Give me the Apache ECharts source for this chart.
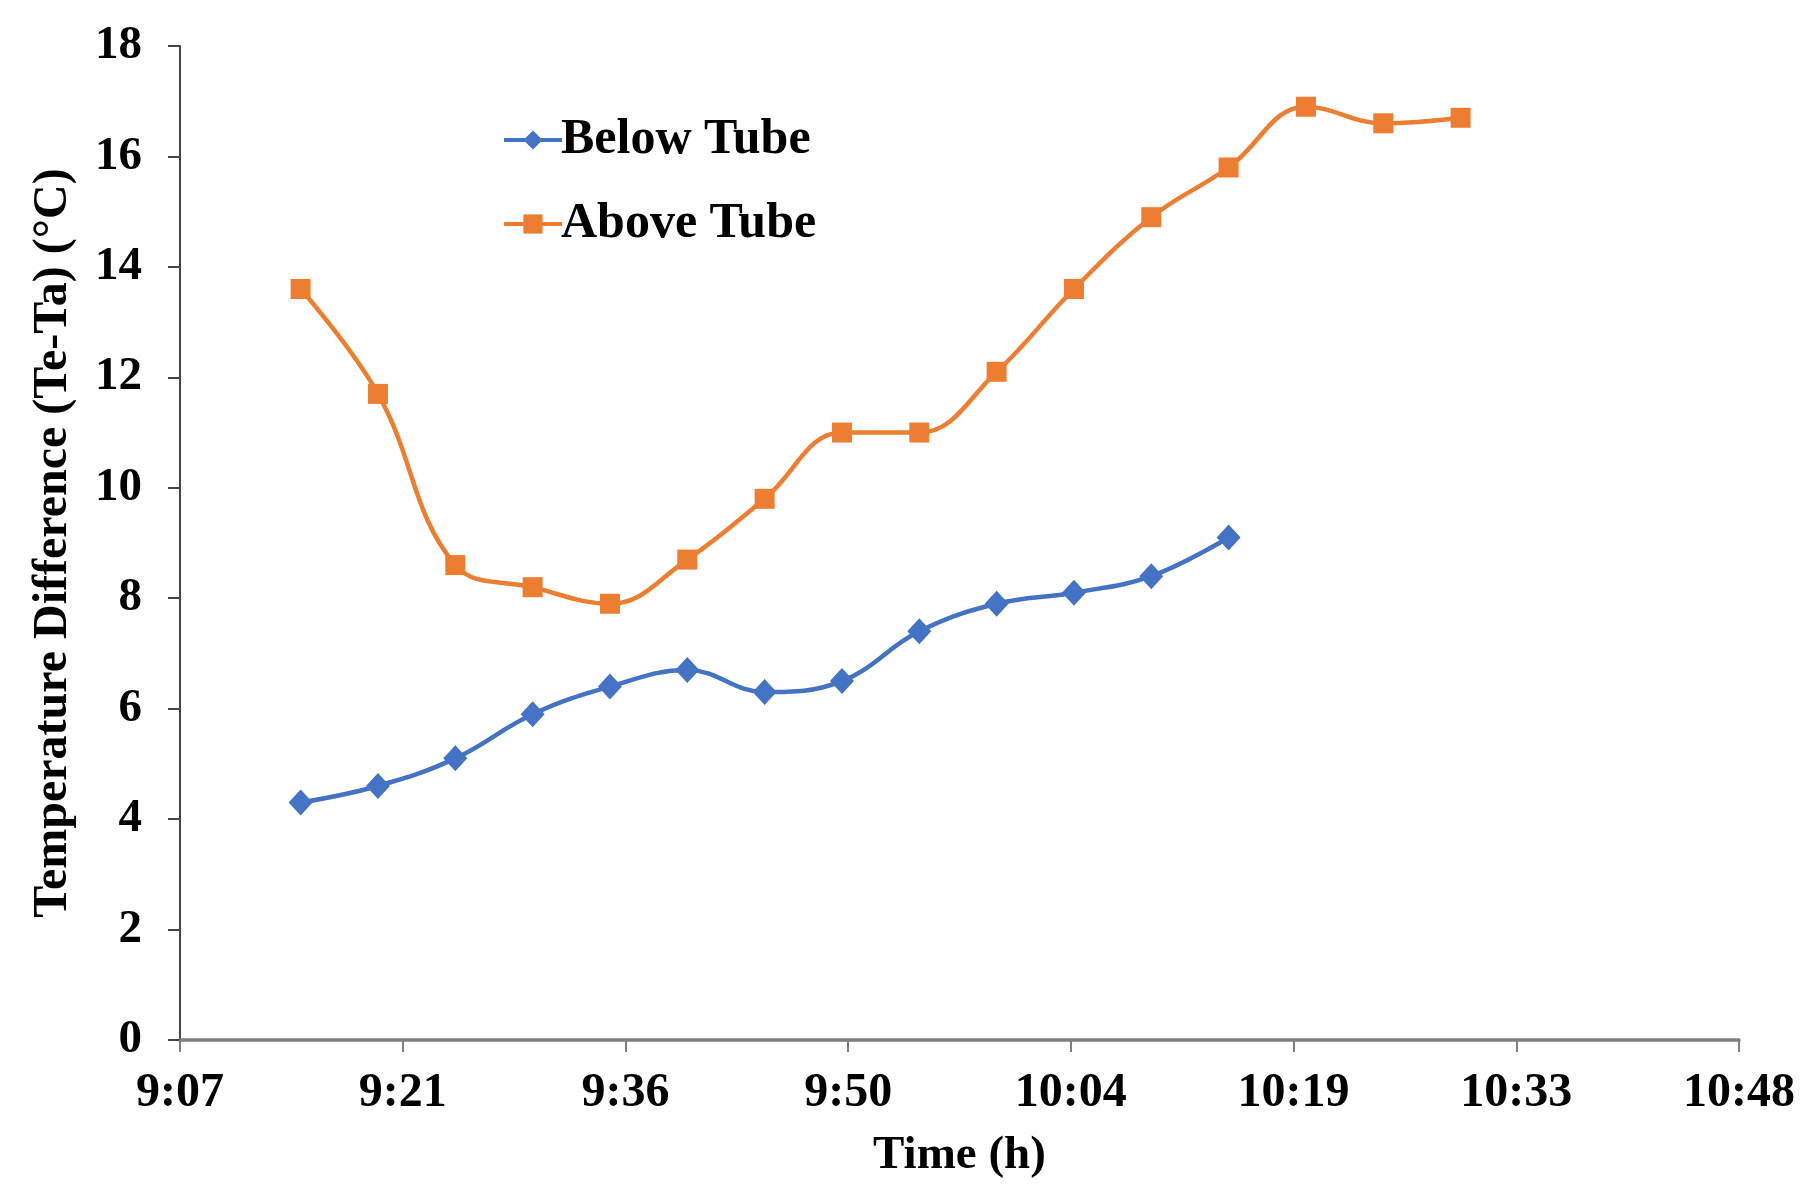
<!DOCTYPE html>
<html>
<head>
<meta charset="utf-8">
<script src="https://cdn.jsdelivr.net/npm/echarts@6/dist/echarts.min.js"></script>
<style>
html,body{margin:0;padding:0;background:#fff;}
#chart{width:1818px;height:1203px;}
</style>
</head>
<body>
<div id="chart"></div>
<script>
// Time in minutes after midnight
var belowTimes = [555, 560, 565, 570, 575, 580, 585, 590, 595, 600, 605, 610, 615];
var belowValues = [4.3, 4.6, 5.1, 5.9, 6.4, 6.7, 6.3, 6.5, 7.4, 7.9, 8.1, 8.4, 9.1];
var aboveTimes = [555, 560, 565, 570, 575, 580, 585, 590, 595, 600, 605, 610, 615, 620, 625, 630];
var aboveValues = [13.6, 11.7, 8.6, 8.2, 7.9, 8.7, 9.8, 11.0, 11.0, 12.1, 13.6, 14.9, 15.8, 16.9, 16.6, 16.7];
var xTickLabels = ['9:07', '9:21', '9:36', '9:50', '10:04', '10:19', '10:33', '10:48'];
var xMin = 547.2, xMax = 648, xInterval = 14.4;

function pairs(xs, ys) { return xs.map(function (x, i) { return [x, ys[i]]; }); }

var FONT = '"Liberation Serif", "Times New Roman", serif';
var chart = echarts.init(document.getElementById('chart'), null, {renderer: 'canvas'});
chart.setOption({
  backgroundColor: '#ffffff',
  animation: false,
  textStyle: {fontFamily: FONT},
  grid: {left: 180, right: 79, top: 46, bottom: 163, containLabel: false},
  legend: {
    orient: 'vertical',
    left: 497,
    top: 110,
    itemWidth: 58,
    itemHeight: 24,
    itemGap: 34,
    lineStyle: {width: 4},
    textStyle: {fontFamily: FONT, fontWeight: 'bold', fontSize: 50, color: '#000', padding: [0, 0, 0, -6]},
    data: ['Below Tube', 'Above Tube']
  },
  xAxis: {
    type: 'value',
    min: xMin, max: xMax, interval: xInterval,
    name: 'Time (h)',
    nameLocation: 'middle',
    nameGap: 92,
    nameTextStyle: {fontFamily: FONT, fontWeight: 'bold', fontSize: 47, color: '#000'},
    axisLine: {show: true, lineStyle: {color: '#7f7f7f', width: 3.5}},
    axisTick: {show: true, length: 12, lineStyle: {color: '#7f7f7f', width: 2}},
    axisLabel: {
      fontFamily: FONT, fontWeight: 'bold', fontSize: 48, color: '#000', margin: 30,
      formatter: function (v) { return xTickLabels[Math.round((v - xMin) / xInterval)] || ''; }
    },
    splitLine: {show: false}
  },
  yAxis: {
    type: 'value',
    min: 0, max: 18, interval: 2,
    name: 'Temperature Difference (Te-Ta) (°C)',
    nameLocation: 'middle',
    nameGap: 102,
    nameTextStyle: {fontFamily: FONT, fontWeight: 'bold', fontSize: 48, color: '#000'},
    axisLine: {show: true, lineStyle: {color: '#444', width: 2}},
    axisTick: {show: true, length: 12, lineStyle: {color: '#444', width: 2}},
    axisLabel: {fontFamily: FONT, fontWeight: 'bold', fontSize: 47, color: '#000', margin: 38},
    splitLine: {show: false}
  },
  series: [
    {
      name: 'Below Tube',
      type: 'line',
      data: pairs(belowTimes, belowValues),
      smooth: 0.4,
      symbol: 'diamond',
      symbolSize: [24, 26],
      itemStyle: {color: '#4472C4'},
      lineStyle: {color: '#4472C4', width: 4.5}
    },
    {
      name: 'Above Tube',
      type: 'line',
      data: pairs(aboveTimes, aboveValues),
      smooth: 0.4,
      symbol: 'rect',
      symbolSize: 20,
      itemStyle: {color: '#ED7D31'},
      lineStyle: {color: '#ED7D31', width: 4.5}
    }
  ]
});
</script>
</body>
</html>
